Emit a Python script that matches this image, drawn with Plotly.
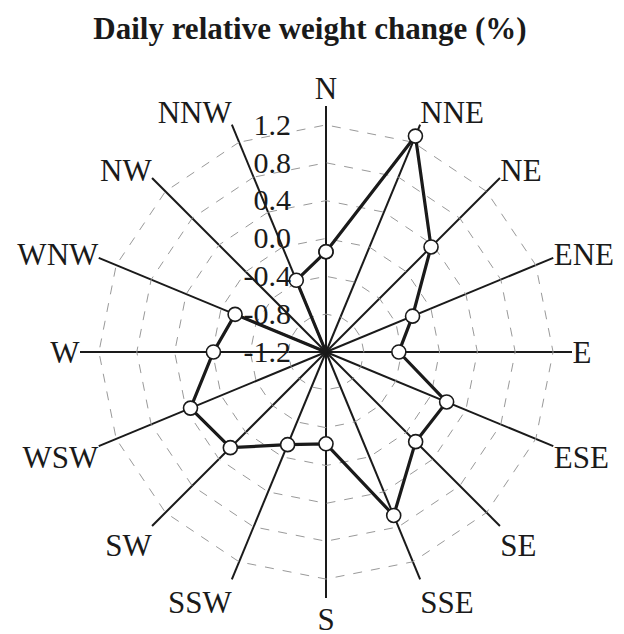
import plotly.graph_objects as go

directions = ["N", "NNE", "NE", "ENE", "E", "ESE", "SE", "SSE",
              "S", "SSW", "SW", "WSW", "W", "WNW", "NW", "NNW"]
weight_change = [-0.14, 1.27, 0.37, -0.21, -0.43, 0.18, 0.14, 0.67,
                 -0.23, -0.14, 0.23, 0.35, -0.01, -0.16, -1.2, -0.38]
radial_ticks = [-1.2, -0.8, -0.4, 0.0, 0.4, 0.8, 1.2]
radial_ticktext = ["-1.2", "-0.8", "-0.4", "0.0", "0.4", "0.8", "1.2"]
radial_range = [-1.2, 1.4]
title_text = "Daily relative weight change (%)"

FONT = "Liberation Serif, Times New Roman, serif"
NBSP = "\u00a0"

# Plotly hides polar markers when the radial range starts below zero with a
# polygonal grid, so the radial axis origin is moved to the range minimum;
# tick labels still show the true values.
r0 = radial_range[0]
r_plot = [v - r0 for v in weight_change]
tick_plot = [t - r0 for t in radial_ticks]
tick_labels = [t + NBSP * 4 for t in radial_ticktext]

fig = go.Figure()
fig.add_trace(go.Scatterpolar(
    r=r_plot + r_plot[:1],
    theta=directions + directions[:1],
    mode="lines+markers",
    line=dict(color="#1a1a1a", width=3.2),
    marker=dict(size=14, color="white", line=dict(color="#1a1a1a", width=1.6)),
    showlegend=False,
))

fig.update_layout(
    width=624, height=634,
    paper_bgcolor="white",
    plot_bgcolor="white",
    margin=dict(l=72, r=60, t=98, b=44),
    title=dict(text="<b>" + title_text + "</b>", x=302 / 624, xref="container", xanchor="center",
               y=1 - 20 / 634, yref="container", yanchor="middle",
               font=dict(family=FONT, size=31, color="#1a1a1a")),
    polar=dict(
        bgcolor="white",
        gridshape="linear",
        domain=dict(x=[0, 1], y=[0, 1]),
        angularaxis=dict(
            type="category",
            categoryarray=directions,
            rotation=90,
            direction="clockwise",
            showline=False,
            showgrid=True,
            gridcolor="#1a1a1a",
            gridwidth=1.5,
            ticks="",
            tickfont=dict(family=FONT, size=31, color="#1a1a1a"),
        ),
        radialaxis=dict(
            range=[0, radial_range[1] - r0],
            angle=90,
            side="counterclockwise",
            tickangle=90,
            tickvals=tick_plot,
            ticktext=tick_labels,
            showline=False,
            ticks="",
            showgrid=True,
            gridcolor="#999999",
            gridwidth=1,
            griddash="dash",
            tickfont=dict(family=FONT, size=30, color="#1a1a1a"),
        ),
    ),
)

fig.write_html("out.html")
